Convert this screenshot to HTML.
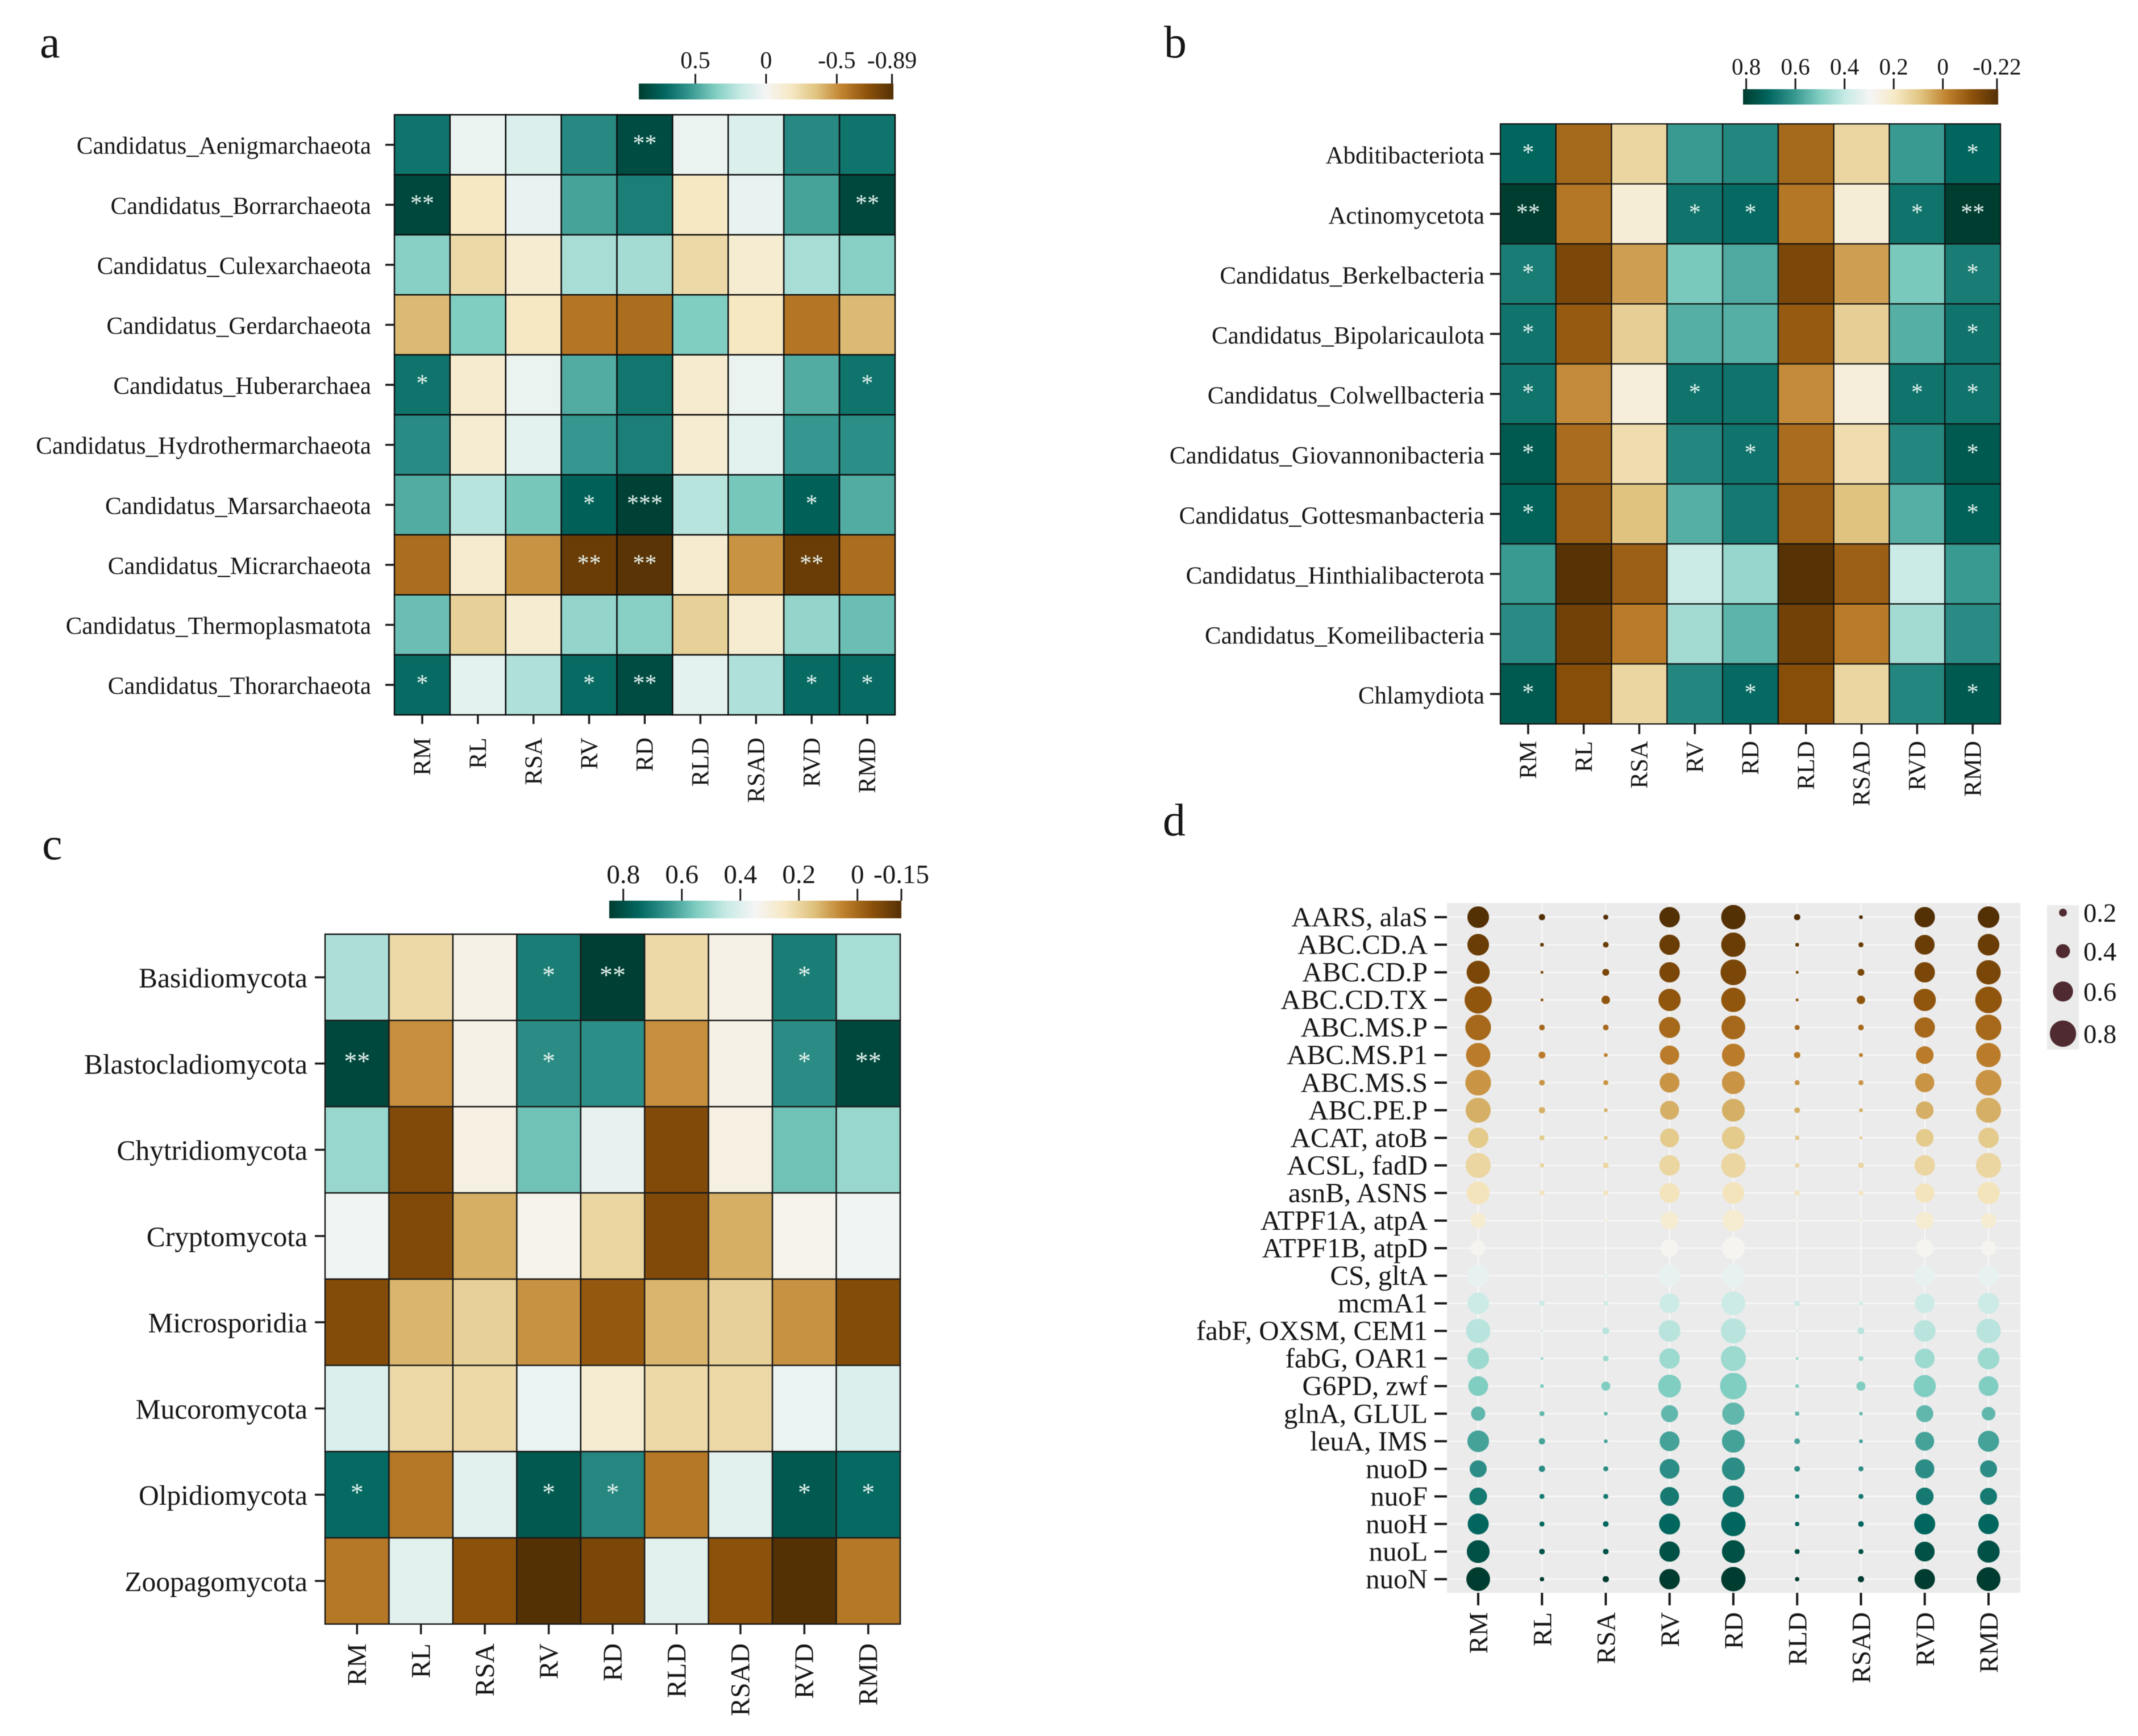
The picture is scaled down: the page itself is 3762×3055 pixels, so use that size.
<!DOCTYPE html>
<html lang="en">
<head>
<meta charset="utf-8">
<title>Correlation heatmaps and gene dot plot</title>
<style>
html,body{margin:0;padding:0;background:#fff;}
svg{display:block;filter:blur(0.8px);}
text{font-family:"Liberation Serif",serif;fill:#161616;}
</style>
</head>
<body>
<svg id="figure" xmlns="http://www.w3.org/2000/svg" width="3762" height="3055" viewBox="0 0 3762 3055">
<defs>
<linearGradient id="cbar" x1="0" x2="1" y1="0" y2="0">
<stop offset="0" stop-color="#003c30"/><stop offset="0.1" stop-color="#01665e"/><stop offset="0.2" stop-color="#35978f"/><stop offset="0.3" stop-color="#80cdc1"/><stop offset="0.4" stop-color="#c7eae5"/><stop offset="0.5" stop-color="#f5f5f5"/><stop offset="0.6" stop-color="#f6e8c3"/><stop offset="0.7" stop-color="#dfc27d"/><stop offset="0.8" stop-color="#bf812d"/><stop offset="0.9" stop-color="#8c510a"/><stop offset="1" stop-color="#543005"/>
</linearGradient>
</defs>
<rect x="0" y="0" width="3762" height="3055" fill="#fff"/>
<g id="root"></g>
</svg>
<script>
// ---------- shared categories ----------
const columns = ["RM","RL","RSA","RV","RD","RLD","RSAD","RVD","RMD"];

// ---------- panel a ----------
const rowsA = ["Candidatus_Aenigmarchaeota","Candidatus_Borrarchaeota","Candidatus_Culexarchaeota","Candidatus_Gerdarchaeota","Candidatus_Huberarchaea","Candidatus_Hydrothermarchaeota","Candidatus_Marsarchaeota","Candidatus_Micrarchaeota","Candidatus_Thermoplasmatota","Candidatus_Thorarchaeota"];
const valuesA = [
[0.67,0.04,0.10,0.59,0.83,0.04,0.10,0.59,0.67],
[0.85,-0.18,0.05,0.50,0.63,-0.18,0.05,0.50,0.85],
[0.34,-0.25,-0.13,0.26,0.27,-0.25,-0.13,0.26,0.34],
[-0.38,0.36,-0.18,-0.58,-0.61,0.36,-0.18,-0.58,-0.38],
[0.67,-0.14,0.04,0.47,0.66,-0.14,0.04,0.47,0.67],
[0.58,-0.13,0.07,0.54,0.63,-0.13,0.07,0.54,0.57],
[0.47,0.22,0.38,0.74,0.88,0.22,0.38,0.74,0.47],
[-0.61,-0.14,-0.49,-0.83,-0.88,-0.14,-0.49,-0.83,-0.61],
[0.41,-0.29,-0.13,0.31,0.34,-0.29,-0.13,0.31,0.41],
[0.70,0.07,0.24,0.70,0.83,0.07,0.24,0.70,0.70]
];
const starsA = [
["","","","","**","","","",""],
["**","","","","","","","","**"],
["","","","","","","","",""],
["","","","","","","","",""],
["*","","","","","","","","*"],
["","","","","","","","",""],
["","","","*","***","","","*",""],
["","","","**","**","","","**",""],
["","","","","","","","",""],
["*","","","*","**","","","*","*"]
];
const ticksA = [0.5,0,-0.5,-0.89];
const tickLabelsA = ["0.5","0","-0.5","-0.89"];

// ---------- panel b ----------
const rowsB = ["Abditibacteriota","Actinomycetota","Candidatus_Berkelbacteria","Candidatus_Bipolaricaulota","Candidatus_Colwellbacteria","Candidatus_Giovannonibacteria","Candidatus_Gottesmanbacteria","Candidatus_Hinthialibacterota","Candidatus_Komeilibacteria","Chlamydiota"];
const valuesB = [
[0.71,-0.07,0.14,0.60,0.64,-0.07,0.14,0.60,0.71],
[0.81,-0.04,0.23,0.68,0.70,-0.04,0.23,0.68,0.81],
[0.66,-0.15,0.03,0.51,0.57,-0.15,0.03,0.51,0.66],
[0.68,-0.10,0.12,0.56,0.56,-0.10,0.12,0.56,0.68],
[0.68,0.00,0.24,0.68,0.68,0.00,0.24,0.68,0.68],
[0.74,-0.06,0.16,0.64,0.68,-0.06,0.16,0.64,0.74],
[0.72,-0.09,0.09,0.56,0.67,-0.09,0.09,0.56,0.72],
[0.60,-0.22,-0.09,0.39,0.47,-0.22,-0.09,0.39,0.60],
[0.63,-0.17,-0.03,0.45,0.55,-0.17,-0.03,0.45,0.63],
[0.74,-0.13,0.14,0.64,0.70,-0.13,0.14,0.64,0.74]
];
const starsB = [
["*","","","","","","","","*"],
["**","","","*","*","","","*","**"],
["*","","","","","","","","*"],
["*","","","","","","","","*"],
["*","","","*","","","","*","*"],
["*","","","","*","","","","*"],
["*","","","","","","","","*"],
["","","","","","","","",""],
["","","","","","","","",""],
["*","","","","*","","","","*"]
];
const ticksB = [0.8,0.6,0.4,0.2,0,-0.22];
const tickLabelsB = ["0.8","0.6","0.4","0.2","0","-0.22"];

// ---------- panel c ----------
const rowsC = ["Basidiomycota","Blastocladiomycota","Chytridiomycota","Cryptomycota","Microsporidia","Mucoromycota","Olpidiomycota","Zoopagomycota"];
const valuesC = [
[0.485,0.21,0.32,0.70,0.84,0.21,0.32,0.70,0.495],
[0.82,0.07,0.32,0.67,0.665,0.07,0.32,0.67,0.82],
[0.515,-0.07,0.31,0.57,0.38,-0.07,0.31,0.57,0.515],
[0.36,-0.07,0.12,0.33,0.20,-0.07,0.12,0.33,0.36],
[-0.065,0.13,0.19,0.075,-0.035,0.13,0.19,0.075,-0.065],
[0.405,0.21,0.21,0.37,0.28,0.21,0.21,0.37,0.405],
[0.74,0.03,0.39,0.78,0.68,0.03,0.39,0.78,0.74],
[0.03,0.39,-0.05,-0.15,-0.08,0.39,-0.05,-0.15,0.03]
];
const starsC = [
["","","","*","**","","","*",""],
["**","","","*","","","","*","**"],
["","","","","","","","",""],
["","","","","","","","",""],
["","","","","","","","",""],
["","","","","","","","",""],
["*","","","*","*","","","*","*"],
["","","","","","","","",""]
];
const ticksC = [0.8,0.6,0.4,0.2,0,-0.15];
const tickLabelsC = ["0.8","0.6","0.4","0.2","0","-0.15"];

// ---------- panel d ----------
const genes = ["AARS, alaS","ABC.CD.A","ABC.CD.P","ABC.CD.TX","ABC.MS.P","ABC.MS.P1","ABC.MS.S","ABC.PE.P","ACAT, atoB","ACSL, fadD","asnB, ASNS","ATPF1A, atpA","ATPF1B, atpD","CS, gltA","mcmA1","fabF, OXSM, CEM1","fabG, OAR1","G6PD, zwf","glnA, GLUL","leuA, IMS","nuoD","nuoF","nuoH","nuoL","nuoN"];
const geneColorLevels = [0,0.04,0.07,0.11,0.15,0.19,0.23,0.27,0.32,0.35,0.39,0.43,0.49,0.53,0.59,0.62,0.66,0.70,0.74,0.78,0.82,0.86,0.90,0.95,1];
const dotSizes = [
[0.65,0.15,0.11,0.61,0.74,0.15,0.07,0.61,0.65],
[0.65,0.07,0.13,0.61,0.74,0.07,0.11,0.59,0.65],
[0.70,0.04,0.17,0.61,0.78,0.04,0.17,0.61,0.74],
[0.83,0.04,0.22,0.67,0.74,0.04,0.22,0.67,0.81],
[0.78,0.13,0.13,0.63,0.72,0.11,0.13,0.61,0.78],
[0.74,0.17,0.07,0.57,0.69,0.15,0.07,0.52,0.74],
[0.78,0.13,0.11,0.59,0.69,0.11,0.11,0.57,0.78],
[0.76,0.15,0.07,0.56,0.69,0.13,0.07,0.52,0.76],
[0.61,0.11,0.07,0.56,0.69,0.09,0.04,0.52,0.61],
[0.76,0.09,0.13,0.61,0.74,0.09,0.13,0.61,0.76],
[0.69,0.11,0.11,0.59,0.65,0.11,0.09,0.57,0.67],
[0.44,0.00,0.04,0.52,0.65,0.00,0.02,0.52,0.44],
[0.44,0.00,0.00,0.52,0.69,0.00,0.00,0.52,0.44],
[0.65,0.02,0.09,0.65,0.69,0.02,0.02,0.61,0.61],
[0.65,0.13,0.09,0.59,0.72,0.13,0.07,0.59,0.63],
[0.74,0.00,0.17,0.65,0.76,0.00,0.17,0.65,0.74],
[0.65,0.04,0.13,0.61,0.76,0.04,0.11,0.59,0.65],
[0.59,0.07,0.24,0.69,0.81,0.07,0.24,0.67,0.59],
[0.41,0.11,0.07,0.50,0.67,0.09,0.06,0.50,0.39],
[0.65,0.15,0.07,0.59,0.69,0.13,0.07,0.56,0.63],
[0.50,0.15,0.11,0.59,0.69,0.13,0.11,0.57,0.50],
[0.52,0.11,0.11,0.56,0.65,0.09,0.11,0.52,0.50],
[0.63,0.11,0.13,0.63,0.74,0.09,0.13,0.63,0.61],
[0.69,0.13,0.13,0.61,0.69,0.11,0.11,0.59,0.67],
[0.72,0.09,0.15,0.61,0.74,0.09,0.15,0.61,0.72]
];
const sizeLegendValues = [0.2,0.4,0.6,0.8];
const sizeLegendLabels = ["0.2","0.4","0.6","0.8"];

// ---------- colour map stops (BrBG) ----------
const brbg = ["#543005","#8c510a","#bf812d","#dfc27d","#f6e8c3","#f5f5f5","#c7eae5","#80cdc1","#35978f","#01665e","#003c30"];

function hexToRgb(h){return [parseInt(h.slice(1,3),16),parseInt(h.slice(3,5),16),parseInt(h.slice(5,7),16)];}
function colorAt(t){
  t=Math.max(0,Math.min(1,t));
  const p=t*(brbg.length-1), i=Math.min(brbg.length-2,Math.floor(p)), f=p-i;
  const a=hexToRgb(brbg[i]), b=hexToRgb(brbg[i+1]);
  return "rgb("+[0,1,2].map(k=>Math.round(a[k]+(b[k]-a[k])*f)).join(",")+")";
}
const NS="http://www.w3.org/2000/svg";
const root=document.getElementById("root");
function make(tag,parent){const e=document.createElementNS(NS,tag);parent.appendChild(e);return e;}
function setAll(e,o){for(const k in o)e.setAttribute(k,o[k]);}

function drawHeatmap(cfg){
  const g=make("g",root);
  
  
  const rows=cfg.rows, vals=cfg.values, stars=cfg.stars;
  const cw=(cfg.x1-cfg.x0)/columns.length, ch=(cfg.y1-cfg.y0)/rows.length;
  const xAt=i=>cfg.x0+cw*i, yAt=j=>cfg.y0+ch*j;
  const colorOf=v=>colorAt((v-cfg.vmin)/(cfg.vmax-cfg.vmin));
  rows.forEach((r,j)=>{
    columns.forEach((c,i)=>{
      const cell=make("rect",g);
      setAll(cell,{x:xAt(i),y:yAt(j),width:cw,height:ch,fill:colorOf(vals[j][i]),stroke:cfg.stroke,"stroke-width":cfg.sw});
      
      
    });
  });
  rows.forEach((r,j)=>{
    columns.forEach((c,i)=>{
      if(!stars[j][i]) return;
      const s=make("text",g);
      setAll(s,{x:xAt(i)+cw/2,y:yAt(j)+ch/2+cfg.starDy,"text-anchor":"middle","font-size":cfg.starFs,style:"fill:#e6f2ee"});
      s.textContent=stars[j][i];
      
      
    });
  });
  rows.forEach((r,j)=>{
    const cy=yAt(j)+ch/2;
    const t=make("line",g);
    setAll(t,{x1:cfg.x0-cfg.tickLen,x2:cfg.x0,y1:cy,y2:cy,stroke:"#1a1a1a","stroke-width":3.5});
    
    
    const l=make("text",g);
    setAll(l,{x:cfg.labelRight,y:cy+cfg.fs*0.3+cfg.labelDy,"text-anchor":"end","font-size":cfg.fs});
    l.textContent=r;
    
    
  });
  columns.forEach((c,i)=>{
    const cx=xAt(i)+cw/2;
    const t=make("line",g);
    setAll(t,{x1:cx,x2:cx,y1:cfg.y1,y2:cfg.y1+cfg.tickLen,stroke:"#1a1a1a","stroke-width":3.5});
    
    
    const l=make("text",g);
    setAll(l,{x:cx+cfg.xfs*0.33,y:cfg.xLabelTop,"text-anchor":"end","font-size":cfg.xfs,transform:"rotate(-90 "+(cx+cfg.xfs*0.33)+" "+cfg.xLabelTop+")"});
    l.textContent=c;
    
    
  });
  // colour bar
  const b=cfg.bar;
  const bx=v=>b.x0+(cfg.vmax-v)/(cfg.vmax-cfg.vmin)*(b.x1-b.x0);
  const bar=make("rect",g);
  setAll(bar,{x:b.x0,y:b.y0,width:b.x1-b.x0,height:b.y1-b.y0,fill:"url(#cbar)"});
  
  
  cfg.ticks.forEach((v,i)=>{
    const x=bx(v);
    const t=make("line",g);
    setAll(t,{x1:x,x2:x,y1:b.tickTop,y2:b.y0,stroke:"#1a1a1a","stroke-width":3});
    
    
    const l=make("text",g);
    setAll(l,{x:x,y:b.labelY,"text-anchor":"middle","font-size":b.fs});
    l.textContent=cfg.tickLabels[i];
    
    
  });
}

drawHeatmap({name:"heatmap-panel-a",rows:rowsA,values:valuesA,stars:starsA,x0:694,x1:1575,y0:202,y1:1258,vmin:-0.9,vmax:0.9,stroke:"#0d0d0d",sw:2.5,starDy:11,starFs:42,tickLen:16,labelRight:653,labelDy:3,fs:43,xfs:43,xLabelTop:1298,
  bar:{x0:1124,x1:1572,y0:147,y1:175,tickTop:130,labelY:120,fs:42},ticks:ticksA,tickLabels:tickLabelsA});
drawHeatmap({name:"heatmap-panel-b",rows:rowsB,values:valuesB,stars:starsB,x0:2640,x1:3520,y0:218,y1:1274,vmin:-0.225,vmax:0.813,stroke:"#111",sw:2.2,starDy:11,starFs:42,tickLen:18,labelRight:2612,labelDy:4,fs:43,xfs:43,xLabelTop:1304,
  bar:{x0:3067,x1:3516,y0:157,y1:184,tickTop:138,labelY:131,fs:41},ticks:ticksB,tickLabels:tickLabelsB});
drawHeatmap({name:"heatmap-panel-c",rows:rowsC,values:valuesC,stars:starsC,x0:572,x1:1584,y0:1644,y1:2858,vmin:-0.15,vmax:0.848,stroke:"#1a1a1a",sw:2.5,starDy:11,starFs:46,tickLen:18,labelRight:541,labelDy:3,fs:49.5,xfs:48,xLabelTop:2892,
  bar:{x0:1072,x1:1586,y0:1585,y1:1616,tickTop:1564,labelY:1554,fs:47},ticks:ticksC,tickLabels:tickLabelsC});

// ---------- dot plot ----------
(function(){
  const g=make("g",root);
  
  
  const L=2546,R=3555,T=1589,B=2803;
  const xAt=i=>2601+i*(3499-2601)/(columns.length-1);
  const yAt=j=>1614+j*(2779-1614)/(genes.length-1);
  const dia=v=>3+54*v;
  const bg=make("rect",g);
  setAll(bg,{x:L,y:T,width:R-L,height:B-T,fill:"#ebebeb"});
  
  
  genes.forEach((n,j)=>{
    const gl=make("line",g);
    setAll(gl,{x1:L,x2:R,y1:yAt(j),y2:yAt(j),stroke:"#f7f7f7","stroke-width":2.5});
    
    
  });
  columns.forEach((c,i)=>{
    const gl=make("line",g);
    setAll(gl,{x1:xAt(i),x2:xAt(i),y1:T,y2:B,stroke:"#f7f7f7","stroke-width":2.5});
    
    
  });
  genes.forEach((n,j)=>{
    columns.forEach((c,i)=>{
      const d=make("circle",g);
      setAll(d,{cx:xAt(i),cy:yAt(j),r:dia(dotSizes[j][i])/2,fill:colorAt(geneColorLevels[j])});
      
      
    });
    const t=make("line",g);
    setAll(t,{x1:2524,x2:L,y1:yAt(j),y2:yAt(j),stroke:"#1a1a1a","stroke-width":4});
    
    
    const l=make("text",g);
    setAll(l,{x:2512,y:yAt(j)+16,"text-anchor":"end","font-size":49});
    l.textContent=n;
    
    
  });
  columns.forEach((c,i)=>{
    const cx=xAt(i);
    const t=make("line",g);
    setAll(t,{x1:cx,x2:cx,y1:B,y2:2825,stroke:"#1a1a1a","stroke-width":4});
    
    
    const l=make("text",g);
    const lx=cx+16;
    setAll(l,{x:lx,y:2837,"text-anchor":"end","font-size":47,transform:"rotate(-90 "+lx+" 2837)"});
    l.textContent=c;
    
    
  });
  // size legend
  const lg=make("rect",g);
  setAll(lg,{x:3602,y:1593,width:56,height:254,fill:"#ebebeb"});
  
  
  const legY=v=>1606+(v-0.2)/0.6*213+(v-0.2)*(0.8-v)*-40;
  sizeLegendValues.forEach((v,i)=>{
    const c=make("circle",g);
    setAll(c,{cx:3630,cy:legY(v),r:dia(v)/2,fill:"#4f2a30"});
    
    
    const l=make("text",g);
    setAll(l,{x:3666,y:legY(v)+16,"font-size":46.5});
    l.textContent=sizeLegendLabels[i];
    
    
  });
})();

// ---------- panel letters ----------
const panelLetters = ["a","b","c","d"];
const letterAnchors = [[70,101],[2048,101],[74,1512],[2046,1470]];
panelLetters.forEach((s,i)=>{
  const t=make("text",root);
  setAll(t,{x:letterAnchors[i][0],y:letterAnchors[i][1],"font-size":80});
  t.textContent=s;
  
  
});
</script>
</body>
</html>
